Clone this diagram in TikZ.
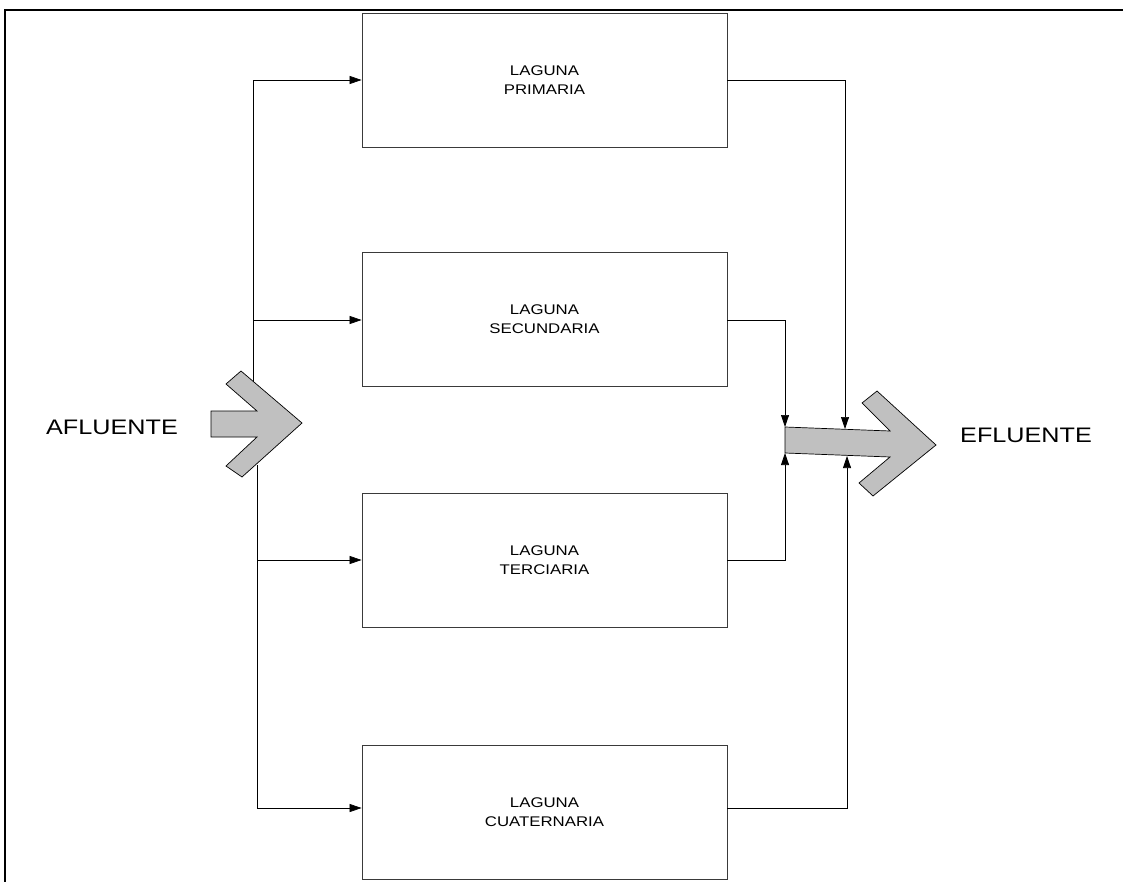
\documentclass[tikz,border=0pt]{standalone}
\usepackage{fontspec}
\setmainfont{Liberation Sans}
\newfontfamily\widefont[FakeStretch=1.2]{Liberation Sans}
\usetikzlibrary{arrows.meta, positioning}
\definecolor{lagline}{HTML}{3A3A3A}
\definecolor{flowgrey}{HTML}{C0C0C0}

\begin{document}
\begin{tikzpicture}[x=1pt, y=-1pt,
  laguna/.style={draw=lagline, line width=0.8pt, minimum width=365pt, minimum height=134pt,
    inner sep=0pt, align=center, font=\widefont\fontsize{14}{19}\selectfont},
  flow/.style={draw=black, line width=0.7pt, -{Triangle[length=12pt, width=8pt]}},
  bigarrow/.style={draw=black, line width=0.7pt, fill=flowgrey, line join=miter}]
  \useasboundingbox (0,0) rectangle (1123,882);
  % frame
  \draw[line width=1.6pt] (5,882) -- (5,10) -- (1123,10);
  % lagunas
  \node[laguna] (lag1) at (544.5,80) {LAGUNA\\PRIMARIA};
  \node[laguna] (lag2) at (544.5,319) {LAGUNA\\SECUNDARIA};
  \node[laguna] (lag3) at (544.5,560) {LAGUNA\\TERCIARIA};
  \node[laguna] (lag4) at (544.5,812.5) {LAGUNA\\CUATERNARIA};
  % labels
  \node[font=\widefont\fontsize{21}{24}\selectfont] (afl) at (112,427) {AFLUENTE};
  \node[font=\widefont\fontsize{21}{24}\selectfont] (efl) at (1026,435) {EFLUENTE};
  % split points
  \coordinate (in1) at (253,80);
  \coordinate (in2) at (253,320);
  \coordinate (in3) at (257,560);
  \coordinate (in4) at (257,808);
  \coordinate (inup) at (253,385);
  \coordinate (indn) at (257,465);
  % join points
  \coordinate (out1) at (845,80);
  \coordinate (out2) at (785,320);
  \coordinate (out3) at (785,560);
  \coordinate (out4) at (847,808);
  \coordinate (eft1) at (845,429);
  \coordinate (eft2) at (785,427);
  \coordinate (efb3) at (785,453);
  \coordinate (efb4) at (847,456);
  % feed lines
  \draw[line width=0.7pt] (inup) -- (in1);
  \draw[line width=0.7pt] (indn) -- (in4);
  \draw[flow] (in1) -- (lag1.west |- in1);
  \draw[flow] (in2) -- (lag2.west |- in2);
  \draw[flow] (in3) -- (lag3.west |- in3);
  \draw[flow] (in4) -- (lag4.west |- in4);
  % outlet lines
  \draw[flow] (lag1.east |- out1) -- (out1) -- (eft1);
  \draw[flow] (lag2.east |- out2) -- (out2) -- (eft2);
  \draw[flow] (lag3.east |- out3) -- (out3) -- (efb3);
  \draw[flow] (lag4.east |- out4) -- (out4) -- (efb4);
  % afluente arrow
  \draw[bigarrow] (211,411) -- (257,411) -- (226,384) -- (241,371) -- (302,423)
    -- (242,477) -- (226,466) -- (257,437) -- (211,437) -- cycle;
  % efluente arrow
  \draw[bigarrow] (785,427) -- (890,431) -- (862,403) -- (877,391) -- (936,445)
    -- (873,496) -- (859,483) -- (890,457) -- (785,453) -- cycle;
\end{tikzpicture}
\end{document}
